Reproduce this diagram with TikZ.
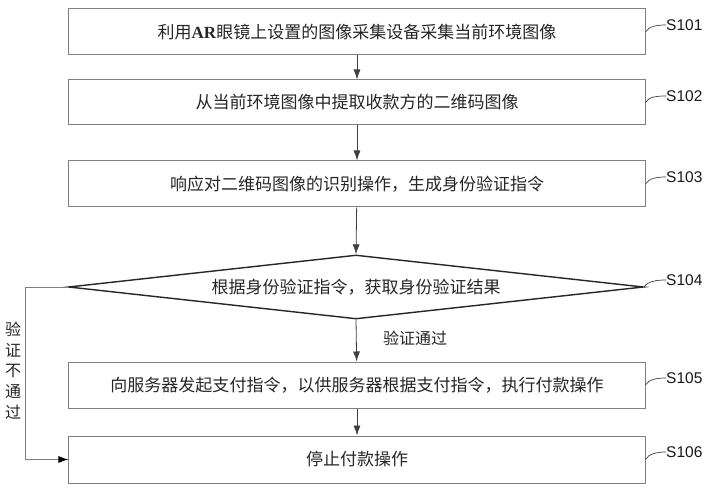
\documentclass[tikz,border=0pt]{standalone}
\usepackage{fontspec}
\setmainfont{Noto Sans CJK SC}
\newfontfamily\lsans{Liberation Sans}
\newfontfamily\lserif{Liberation Serif}
\usetikzlibrary{shapes.geometric,arrows.meta}
\begin{document}
\begin{tikzpicture}[x=1bp,y=1bp,
  stepbox/.style={draw=black!50, line width=1bp, minimum width=576bp, minimum height=46bp, inner sep=0pt, font=\fontsize{17bp}{20bp}\selectfont, text=black!85},
  decision/.style={draw=black!85, line width=1.4bp, shape=diamond, aspect=9, minimum width=575bp, minimum height=64bp, inner sep=0pt, font=\fontsize{17bp}{20bp}\selectfont, text=black!85},
  flow/.style={draw=black!75, line width=0.8bp, -{Latex[length=10bp,width=7bp]}},
  failflow/.style={draw=black!50, line width=1bp, -{Latex[length=10bp,width=7bp,color=black]}},
  steplabel/.style={font=\lsans\fontsize{15.5bp}{18bp}\selectfont, anchor=west, inner sep=0pt, text=black!90},
  tag/.style={draw=black!75, line width=0.7bp},
  note/.style={font=\fontsize{16bp}{20.75bp}\selectfont, text=black!85, inner sep=0pt}
]
\useasboundingbox (0,0) rectangle (728,-496);
\fill[white] (0,0) rectangle (728,-496);

\node[stepbox] (b1) at (357,-32) {利用{\lserif\bfseries AR}眼镜上设置的图像采集设备采集当前环境图像};
\node[stepbox, minimum height=45bp] (b2) at (357,-102.5) {从当前环境图像中提取收款方的二维码图像};
\node[stepbox] (b3) at (357,-184) {响应对二维码图像的识别操作，生成身份验证指令};
\node[decision] (d) at (356,-287) {根据身份验证指令，获取身份验证结果};
\node[stepbox] (b5) at (357,-385) {向服务器发起支付指令，以供服务器根据支付指令，执行付款操作};
\node[stepbox, minimum height=47bp] (b6) at (357,-459.5) {停止付款操作};

\draw[flow] (b1) -- (b2);
\draw[flow] (b2) -- (b3);
\draw[flow] (b3) -- (d.north);
\draw[flow] (d.south) -- (b5);
\draw[flow] (b5) -- (b6);

\coordinate (lc) at (25,-287);
\draw[failflow] (d.west) -- (lc) |- (b6.west);

\node[note] (pass) at (415,-338) {验证通过};
\node[note, align=center] (fail) at (13,-370.5) {验\\证\\不\\通\\过};

\node[steplabel] (s1) at (666,-25) {S101};
\node[steplabel] (s2) at (666,-96) {S102};
\node[steplabel] (s3) at (666,-177) {S103};
\node[steplabel] (s4) at (666,-280) {S104};
\node[steplabel] (s5) at (666,-378) {S105};
\node[steplabel] (s6) at (666,-452) {S106};

\draw[tag] (b1.east) .. controls +(3,6) and +(-8,0) .. (s1.west);
\draw[tag] (b2.east) .. controls +(3,6) and +(-8,0) .. (s2.west);
\draw[tag] (b3.east) .. controls +(3,6) and +(-8,0) .. (s3.west);
\draw[tag] (d.east) .. controls +(3,6) and +(-8,0) .. (s4.west);
\draw[tag] (b5.east) .. controls +(3,6) and +(-8,0) .. (s5.west);
\draw[tag] (b6.east) .. controls +(3,6) and +(-8,0) .. (s6.west);
\end{tikzpicture}
\end{document}
